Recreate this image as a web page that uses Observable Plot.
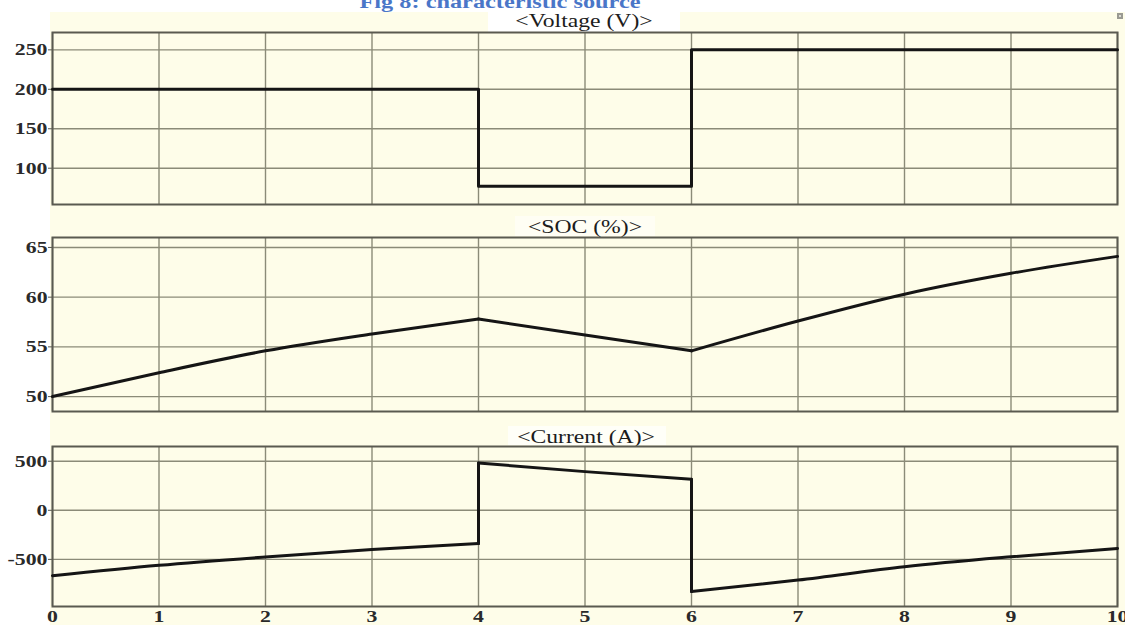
<!DOCTYPE html>
<html>
<head>
<meta charset="utf-8">
<script src="https://cdn.jsdelivr.net/npm/d3@7"></script>
<script src="https://cdn.jsdelivr.net/npm/@observablehq/plot@0.6"></script>
<style>
  html, body { margin: 0; padding: 0; background: #fff; overflow: hidden; }
  #fig { position: relative; width: 1125px; height: 625px; overflow: hidden; background: #fff; }
  #fig > svg { position: absolute; left: 0; }
</style>
</head>
<body>
<div id="fig"></div>
<script>
// Time axis (s)
const xTicks = [0, 1, 2, 3, 4, 5, 6, 7, 8, 9, 10];

// Source voltage: level held from each switching instant
const voltageTime = [0, 4, 6, 10];
const voltageLevel = [200, 77, 250, 250];
const voltageTicks = [100, 150, 200, 250];

// Operating phases start at these instants; readings are taken every second
const phaseStart = [0, 4, 6];

const socByPhase = [
  [50, 52.4, 54.6, 56.3, 57.8],
  [57.8, 56.2, 54.6],
  [54.6, 57.6, 60.3, 62.4, 64.1]
];
const socTicks = [50, 55, 60, 65];

const currentByPhase = [
  [-666, -560, -475, -400, -339],
  [482, 394, 316],
  [-827, -711, -575, -474, -388]
];
const currentTicks = [-500, 0, 500];

// Panel titles
const figTitle = "Fig 8: characteristic source";
const panelTitles = ["<Voltage (V)>", "<SOC (%)>", "<Current (A)>"];

const W = 1125, H = 625;
const PAPER = "#fefde9";
const GRID = "#8b8b78";
const FRAME = "#5a5a50";
const TRACE = "#151515";
const SERIF = "'Liberation Serif', 'Times New Roman', serif";
const STRETCH = 1.28;

function phaseRows(byPhase) {
  const rows = [];
  byPhase.forEach((vals, p) => vals.forEach((v, j) => rows.push({t: phaseStart[p] + j, v, phase: p})));
  return rows;
}
function phaseJumps(byPhase) {
  const out = [];
  for (let p = 1; p < byPhase.length; ++p) {
    const prev = byPhase[p - 1];
    out.push({t: phaseStart[p], from: prev[prev.length - 1], to: byPhase[p][0]});
  }
  return out;
}

const voltageRows = voltageTime.map((t, i) => ({t, v: voltageLevel[i]}));
const socRows = phaseRows(socByPhase);
const currentRows = phaseRows(currentByPhase);
const currentJumps = phaseJumps(currentByPhase);

const fig = document.getElementById("fig");

// backdrop: paper, title boxes and titles
const back = d3.create("svg").attr("width", W).attr("height", H).attr("viewBox", `0 0 ${W} ${H}`).style("top", "0px");
back.append("rect").attr("x", 50).attr("y", 12).attr("width", W - 50).attr("height", H - 12).attr("fill", PAPER);
const titleSpecs = [
  {cx: 584, base: 27, box: [488, 12, 192, 20], fill: "#ffffff"},
  {cx: 585, base: 233, box: [515, 216, 140, 20], fill: "#fffef4"},
  {cx: 586, base: 443, box: [508, 426, 158, 19], fill: "#fffff8"}
];
titleSpecs.forEach((s, i) => {
  back.append("rect").attr("x", s.box[0]).attr("y", s.box[1]).attr("width", s.box[2]).attr("height", s.box[3]).attr("fill", s.fill);
  back.append("text")
    .attr("transform", `translate(${s.cx},${s.base}) scale(${STRETCH},1)`)
    .attr("text-anchor", "middle")
    .attr("font-family", SERIF)
    .attr("font-size", 18.5)
    .attr("fill", "#1c1c1c")
    .text(panelTitles[i]);
});
back.append("text")
  .attr("transform", `translate(500,8) scale(${STRETCH},1)`)
  .attr("text-anchor", "middle")
  .attr("font-family", SERIF)
  .attr("font-weight", "bold")
  .attr("font-size", 19)
  .attr("fill", "#4a76c8")
  .text(figTitle);
back.append("rect").attr("x", 1117).attr("y", 13).attr("width", 6).attr("height", 6).attr("fill", "#9a9a92");
back.append("rect").attr("x", 1119).attr("y", 15).attr("width", 2).attr("height", 2).attr("fill", "#dcdcd4");
fig.appendChild(back.node());

function stretchLabels(svg) {
  svg.querySelectorAll('g[aria-label$="tick label"] text').forEach((el) => {
    const t = el.getAttribute("transform");
    if (t) {
      el.setAttribute("transform", `${t} scale(${STRETCH},1)`);
    } else {
      const x = +el.getAttribute("x") || 0;
      el.setAttribute("x", x / STRETCH);
      el.setAttribute("transform", `scale(${STRETCH},1)`);
    }
  });
}

function panel({top, height, marginBottom, yDomain, yTicks, showX, marks}) {
  const labelStyle = {fontFamily: SERIF, fontSize: 17, fontWeight: "bold"};
  const chart = Plot.plot({
    width: W,
    height,
    marginLeft: 52,
    marginRight: 8,
    marginTop: 1,
    marginBottom,
    style: {background: "transparent", color: "#2a2a2a", overflow: "visible"},
    x: {domain: [0, 10], label: null, ...(showX ? {} : {axis: null})},
    y: {domain: yDomain, label: null},
    marks: [
      Plot.gridX(xTicks, {stroke: GRID, strokeOpacity: 1, strokeWidth: 1.4}),
      Plot.gridY(yTicks, {stroke: GRID, strokeOpacity: 1, strokeWidth: 1.4}),
      Plot.frame({stroke: FRAME, strokeWidth: 2}),
      Plot.axisY(yTicks, {tickSize: 4, tickPadding: 1, tickFormat: (d) => String(d), label: null, stroke: FRAME, ...labelStyle}),
      ...(showX ? [Plot.axisX(xTicks, {tickSize: 0, tickPadding: 3, tickFormat: (d) => String(d), label: null, ...labelStyle})] : []),
      ...marks
    ]
  });
  stretchLabels(chart);
  chart.style.top = `${top}px`;
  fig.appendChild(chart);
}

// Voltage
panel({
  top: 31, height: 174, marginBottom: 1,
  yDomain: [54, 272], yTicks: voltageTicks, showX: false,
  marks: [
    Plot.line(voltageRows, {x: "t", y: "v", curve: "step-after", stroke: TRACE, strokeWidth: 3})
  ]
});

// State of charge
panel({
  top: 236, height: 176, marginBottom: 1,
  yDomain: [48.5, 66], yTicks: socTicks, showX: false,
  marks: [
    Plot.line(socRows, {x: "t", y: "v", z: "phase", curve: "monotone-x", stroke: TRACE, strokeWidth: 3})
  ]
});

// Current
panel({
  top: 445, height: 180, marginBottom: 19,
  yDomain: [-980, 650], yTicks: currentTicks, showX: true,
  marks: [
    Plot.line(currentRows, {x: "t", y: "v", z: "phase", curve: "monotone-x", stroke: TRACE, strokeWidth: 3}),
    Plot.link(currentJumps, {x1: "t", x2: "t", y1: "from", y2: "to", stroke: TRACE, strokeWidth: 3, strokeLinecap: "round"})
  ]
});
</script>
</body>
</html>
